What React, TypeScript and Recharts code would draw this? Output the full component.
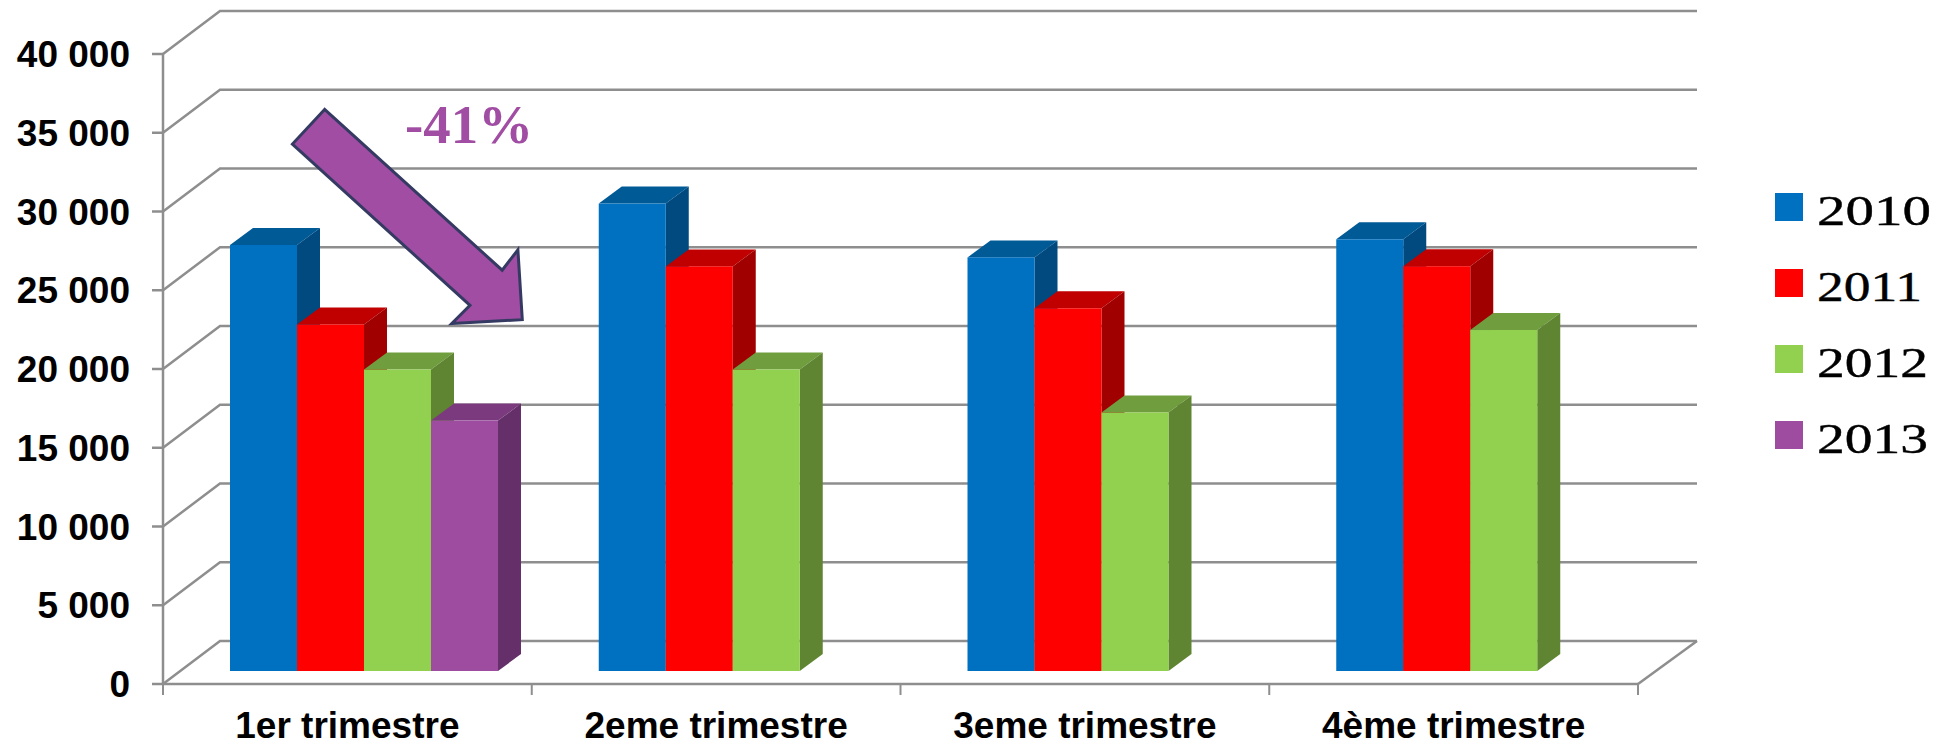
import React from 'react';
import { BarChart, Bar, XAxis, YAxis, CartesianGrid, Legend } from 'recharts';

const quarters = ['1er trimestre', '2eme trimestre', '3eme trimestre', '4ème trimestre'];
const values2010 = [27050, 29680, 26260, 27410];
const values2011 = [22000, 25690, 23030, 25700];
const values2012 = [19140, 19140, 16410, 21650];
const values2013 = [15900, null, null, null];
const yTicks = [0, 5000, 10000, 15000, 20000, 25000, 30000, 35000, 40000];
const legendTextWidths = [114, 105, 111, 111];

const chartData = quarters.map((name, i) => ({
  name,
  y2010: values2010[i],
  y2011: values2011[i],
  y2012: values2012[i],
  y2013: values2013[i],
}));

// top and side faces for each series
const SHADES: Record<string, { top: string; side: string }> = {
  '#0070C0': { top: '#005A96', side: '#004A80' },
  '#FF0000': { top: '#C00000', side: '#A00000' },
  '#92D050': { top: '#709E3E', side: '#5F8532' },
  '#9E4C9F': { top: '#7C3A7E', side: '#652F69' },
};

const AXIS_GREY = '#8E8E8E';
const FONT = '"Liberation Sans", Arial, sans-serif';
const SERIF = '"Liberation Serif", serif';
const PLOT_LEFT = 163;
const PLOT_RIGHT = 1638;
const BAND = (PLOT_RIGHT - PLOT_LEFT) / quarters.length;

// fake perspective: wall depth and where the bars stand on the floor
const WALL_DX = 57;
const WALL_DY = 43;
const FLOOR_DX = 17;
const FLOOR_DY = 13;
const BAR_DX = 23;
const BAR_DY = 17;

const ARROW_POINTS = '324.6,109.4 292.4,144.1 470,305.4 451.8,323.5 522.3,319.7 517.9,249.8 502.2,270.2';

const Bar3D = (props: any) => {
  const { x, y, width, height, fill } = props;
  if (!height) return null;
  const left = x + FLOOR_DX;
  const right = left + width;
  const top = y - FLOOR_DY;
  const bottom = top + height;
  const shade = SHADES[fill];
  return (
    <g>
      <polygon
        points={`${left},${top} ${left + BAR_DX},${top - BAR_DY} ${right + BAR_DX},${top - BAR_DY} ${right},${top}`}
        fill={shade.top}
      />
      <polygon
        points={`${right},${top} ${right + BAR_DX},${top - BAR_DY} ${right + BAR_DX},${bottom - BAR_DY} ${right},${bottom}`}
        fill={shade.side}
      />
      <rect x={left} y={top} width={width} height={height} fill={fill} />
    </g>
  );
};

const WallLine = (props: any) => {
  const { x1, x2, y1 } = props;
  const isFloor = y1 > 680;
  return (
    <g>
      <polyline
        points={`${x1},${y1} ${x1 + WALL_DX},${y1 - WALL_DY} ${x2 + WALL_DX + 2},${y1 - WALL_DY}`}
        fill="none"
        stroke={AXIS_GREY}
        strokeWidth={2.5}
      />
      {isFloor && (
        <line x1={x2} y1={y1} x2={x2 + WALL_DX + 2} y2={y1 - WALL_DY} stroke={AXIS_GREY} strokeWidth={2.5} />
      )}
    </g>
  );
};

const QuarterTick = (props: any) => {
  const { x, payload, index } = props;
  const tickX = x - BAND / 2;
  return (
    <g>
      <line x1={tickX} y1={684} x2={tickX} y2={695} stroke={AXIS_GREY} strokeWidth={2} />
      {index === quarters.length - 1 && (
        <line x1={tickX + BAND} y1={684} x2={tickX + BAND} y2={695} stroke={AXIS_GREY} strokeWidth={2} />
      )}
      <text x={x} y={738} textAnchor="middle" fontFamily={FONT} fontSize={37} fontWeight="bold" fill="#000">
        {payload.value}
      </text>
    </g>
  );
};

const YearLegend = ({ payload }: any) => (
  <svg width={180} height={300} style={{ display: 'block', overflow: 'visible' }}>
    {(payload || []).map((entry: any, i: number) => (
      <g key={entry.value} transform={`translate(0, ${i * 76})`}>
        <rect x={0} y={0} width={28} height={28} fill={entry.color} />
        <text
          x={42}
          y={32}
          fontFamily={SERIF}
          fontSize={43}
          fill="#000"
          stroke="#000"
          strokeWidth={0.4}
          textLength={legendTextWidths[i]}
          lengthAdjust="spacingAndGlyphs"
        >
          {entry.value}
        </text>
      </g>
    ))}
  </svg>
);

export default function App() {
  return (
    <div style={{ position: 'absolute', left: 0, top: 0, background: '#fff' }}>
      <BarChart
        width={1955}
        height={746}
        data={chartData}
        margin={{ top: 54, right: 317, left: 0, bottom: 0 }}
        barGap={0}
        barCategoryGap={50}
      >
        <CartesianGrid vertical={false} horizontal={(p: any) => <WallLine key={p.key} {...p} />} />
        <XAxis
          dataKey="name"
          height={62}
          axisLine={{ stroke: AXIS_GREY, strokeWidth: 2.5 }}
          tickLine={false}
          interval={0}
          tick={(p: any) => <QuarterTick {...p} />}
        />
        <YAxis
          width={163}
          domain={[0, 40000]}
          ticks={yTicks}
          interval={0}
          axisLine={{ stroke: AXIS_GREY, strokeWidth: 2.5 }}
          tickLine={{ stroke: AXIS_GREY, strokeWidth: 2.5 }}
          tickSize={11}
          tickMargin={22}
          tickFormatter={(v: number) => String(v).replace(/\B(?=(\d{3})+$)/g, ' ')}
          tick={{ fontFamily: FONT, fontSize: 37, fontWeight: 'bold', fill: '#000' }}
        />
        <Legend
          layout="horizontal"
          verticalAlign="middle"
          align="center"
          content={<YearLegend />}
          wrapperStyle={{ left: 1775, top: 193, width: 180, height: 300 }}
        />
        <Bar dataKey="y2010" name="2010" fill="#0070C0" shape={<Bar3D />} isAnimationActive={false} />
        <Bar dataKey="y2011" name="2011" fill="#FF0000" shape={<Bar3D />} isAnimationActive={false} />
        <Bar dataKey="y2012" name="2012" fill="#92D050" shape={<Bar3D />} isAnimationActive={false} />
        <Bar dataKey="y2013" name="2013" fill="#9E4C9F" shape={<Bar3D />} isAnimationActive={false} />
        <polygon points={ARROW_POINTS} fill="#A04DA3" stroke="#353A63" strokeWidth={3} />
        <text
          x={405}
          y={143}
          fontFamily={SERIF}
          fontWeight="bold"
          fontSize={54}
          fill="#A04DA3"
          textLength={128}
          lengthAdjust="spacingAndGlyphs"
        >
          -41%
        </text>
      </BarChart>
    </div>
  );
}
